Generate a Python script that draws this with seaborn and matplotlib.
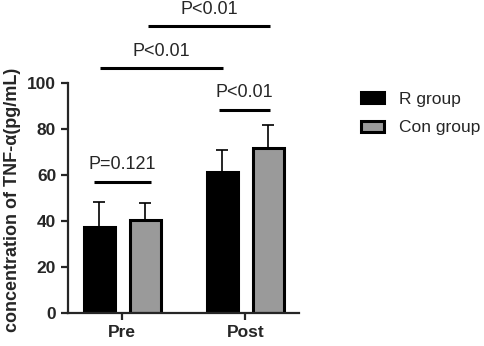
import matplotlib
matplotlib.use("Agg")
from matplotlib import pyplot as plt
import seaborn as sns
import pandas as pd

# values
times = ["Pre", "Post"]
groups = ["R group", "Con group"]
r_means = [37.4, 61.3]
r_sd = [10.9, 9.4]
con_means = [40.3, 71.7]
con_sd = [7.3, 9.9]

# significance annotations: (x_start, x_end, y_line, text)
sig_labels = ["P=0.121", "P<0.01", "P<0.01", "P<0.01"]
sig_x0 = [-0.23, 0.79, -0.18, 0.21]
sig_x1 = [0.23, 1.20, 0.82, 1.20]
sig_y = [57, 88.3, 106.4, 124.4]

df = pd.DataFrame({
    "time": times * 2,
    "group": [groups[0]] * 2 + [groups[1]] * 2,
    "value": r_means + con_means,
    "sd": r_sd + con_sd,
})

sns.set_style("ticks")
plt.rcParams["font.family"] = ["Liberation Sans", "DejaVu Sans"]

fig = plt.figure(figsize=(4.84, 3.46), dpi=100)
ax = fig.add_axes([0.1405, 0.0962, 0.4775, 0.665])

sns.barplot(data=df, x="time", y="value", hue="group", order=times, hue_order=groups,
            palette=["black", "#9a9a9a"], edgecolor="black", linewidth=2.2,
            width=0.75, gap=0.33, errorbar=None, ax=ax)

# upper-only SD bars
for container, g in zip(ax.containers, groups):
    sds = df[df["group"] == g].set_index("time").loc[times, "sd"].values
    for bar, sd in zip(container, sds):
        ax.errorbar(bar.get_x() + bar.get_width() / 2, bar.get_height(),
                    yerr=[[0], [sd]], fmt="none", ecolor="black",
                    elinewidth=1.2, capsize=4, capthick=1.2, zorder=1)

for lab, x0, x1, y in zip(sig_labels, sig_x0, sig_x1, sig_y):
    ax.plot([x0, x1], [y, y], color="black", lw=2.2, clip_on=False, solid_capstyle="butt")
    ax.text((x0 + x1) / 2, y + 7.3, lab, ha="center", va="center", fontsize=13, clip_on=False)

ax.set_xlim(-0.441, 1.437)
ax.set_ylim(0, 100)
ax.set_yticks([0, 20, 40, 60, 80, 100])
ax.set_xlabel("")
ax.set_ylabel("concentration of TNF-α(pg/mL)", fontsize=13, fontweight="bold")
ax.yaxis.set_label_coords(-0.205, 0.49)
sns.despine(ax=ax)
for s in ["left", "bottom"]:
    ax.spines[s].set_linewidth(1.6)
ax.tick_params(width=1.6, length=5, labelsize=12.5)
for t in ax.get_xticklabels() + ax.get_yticklabels():
    t.set_fontweight("bold")

ax.legend(loc="center left", bbox_to_anchor=(1.229, 0.866), frameon=False, borderpad=0,
          fontsize=12.5, handlelength=1.35, handleheight=0.6, labelspacing=0.8,
          handletextpad=0.85)

fig.savefig("out.png", dpi=100)
